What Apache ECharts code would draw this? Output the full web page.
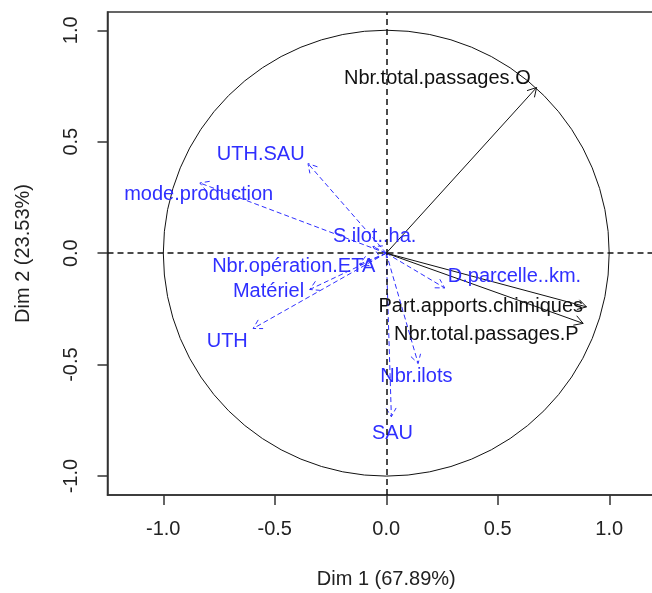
<!DOCTYPE html>
<html>
<head>
<meta charset="utf-8">
<script src="https://cdn.jsdelivr.net/npm/echarts@6/dist/echarts.min.js"></script>
<style>
  html, body { margin: 0; padding: 0; background: #fff; }
  #chart { width: 652px; height: 593px; }
</style>
</head>
<body>
<div id="chart"></div>
<script>
// variables of the correlation circle
const varNames = ['Nbr.total.passages.O', 'Part.apports.chimiques', 'Nbr.total.passages.P',
  'D.parcelle..km.', 'Nbr.ilots', 'SAU', 'UTH', 'Matériel', 'Nbr.opération.ETA',
  'UTH.SAU', 'mode.production', 'S.ilot..ha.']
const dim1 = [0.674, 0.898, 0.883, 0.262, 0.143, 0.023, -0.597, -0.343, -0.12, -0.351, -0.836, -0.06]
const dim2 = [0.743, -0.241, -0.315, -0.156, -0.495, -0.734, -0.338, -0.163, -0.05, 0.402, 0.315, 0.03]
// true = active variable (black, solid), false = supplementary (blue, dashed)
const active = [true, true, true, false, false, false, false, false, false, false, false, false]
// where each name is written
const labelX = [0.229, 0.424, 0.449, 0.575, 0.135, 0.028, -0.713, -0.528, -0.415, -0.563, -0.841, -0.052]
const labelY = [0.785, -0.241, -0.365, -0.106, -0.555, -0.809, -0.398, -0.174, -0.058, 0.444, 0.265, 0.073]
const tickValues = [-1, -0.5, 0, 0.5, 1]

const FONT = '"Liberation Sans", Arial, sans-serif'
const BLUE = '#2f2fff'

const arrowData = varNames.map((n, i) => [dim1[i], dim2[i], labelX[i], labelY[i], i])

function renderArrow(params, api) {
  const i = api.value(4)
  const o = api.coord([0, 0])
  const e = api.coord([api.value(0), api.value(1)])
  const l = api.coord([api.value(2), api.value(3)])
  const ang = Math.atan2(e[1] - o[1], e[0] - o[0])
  const hl = 10, ha = Math.PI / 6
  const p1 = [e[0] - hl * Math.cos(ang - ha), e[1] - hl * Math.sin(ang - ha)]
  const p2 = [e[0] - hl * Math.cos(ang + ha), e[1] - hl * Math.sin(ang + ha)]
  const col = active[i] ? '#111' : BLUE
  const dash = active[i] ? null : [5, 3]
  return {
    type: 'group',
    children: [
      { type: 'line', shape: { x1: o[0], y1: o[1], x2: e[0], y2: e[1] },
        style: { stroke: col, lineWidth: 1, lineDash: dash } },
      { type: 'polyline', shape: { points: [p1, e, p2] },
        style: { stroke: col, lineWidth: 1, fill: null, lineDash: dash } },
      { type: 'text', x: l[0], y: l[1],
        style: { text: varNames[i], fill: col, font: '20px ' + FONT, align: 'center', verticalAlign: 'middle' } }
    ]
  }
}

function renderCircle(params, api) {
  const c = api.coord([0, 0])
  const s = api.size([1, 1])
  return { type: 'circle', shape: { cx: c[0], cy: c[1], r: (s[0] + s[1]) / 2 },
    style: { stroke: '#111', lineWidth: 1, fill: null } }
}

const chart = echarts.init(document.getElementById('chart'))
chart.setOption({
  animation: false,
  textStyle: { fontFamily: FONT },
  grid: { left: 107.5, top: 12, width: 557.5, height: 483, outerBoundsMode: 'none', containLabel: false,
    show: true, borderColor: '#333', borderWidth: 1.5, backgroundColor: 'transparent' },
  xAxis: {
    type: 'value', min: -1.25, max: 1.25,
    name: 'Dim 1 (67.89%)', nameLocation: 'middle', nameGap: 74,
    nameTextStyle: { fontSize: 20, color: '#222', fontFamily: FONT },
    axisLine: { show: true, onZero: false, lineStyle: { color: '#333', width: 1.5 } },
    axisTick: { show: true, length: 10, customValues: tickValues, lineStyle: { color: '#333', width: 1.5 } },
    axisLabel: { customValues: tickValues, fontSize: 20, color: '#222', margin: 24, fontFamily: FONT,
      formatter: v => v.toFixed(1) },
    splitLine: { show: false }
  },
  yAxis: {
    type: 'value', min: -1.085, max: 1.082,
    name: 'Dim 2 (23.53%)', nameLocation: 'middle', nameGap: 74,
    nameTextStyle: { fontSize: 20, color: '#222', fontFamily: FONT },
    axisLine: { show: true, onZero: false, lineStyle: { color: '#333', width: 1.5 } },
    axisTick: { show: true, length: 10, customValues: tickValues, lineStyle: { color: '#333', width: 1.5 } },
    axisLabel: { customValues: tickValues, fontSize: 20, color: '#222', margin: 26, rotate: 90, fontFamily: FONT,
      formatter: v => v.toFixed(1) },
    splitLine: { show: false }
  },
  series: [
    {
      type: 'custom', renderItem: renderCircle, data: [[0, 0]], silent: true,
      markLine: {
        silent: true, symbol: 'none', label: { show: false },
        lineStyle: { color: '#111', type: [6, 4], width: 1.5 },
        data: [{ xAxis: 0 }, { yAxis: 0 }]
      }
    },
    { type: 'custom', renderItem: renderArrow, data: arrowData, silent: true }
  ]
})
</script>
</body>
</html>
